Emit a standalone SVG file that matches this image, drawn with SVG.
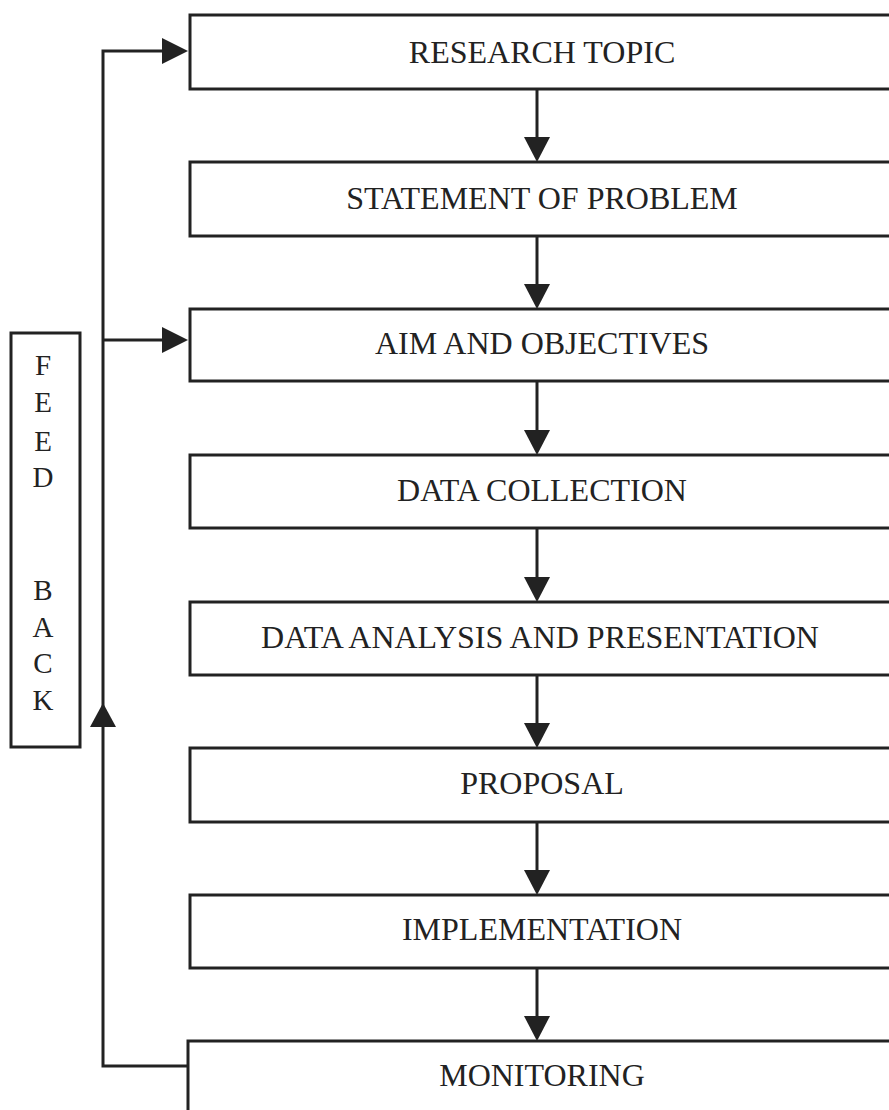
<svg xmlns="http://www.w3.org/2000/svg" width="889" height="1110" viewBox="0 0 889 1110">
  <style>
    .box { fill: #ffffff; stroke: #222222; stroke-width: 3; }
    .label { font-family: "Liberation Serif", "Times New Roman", serif; font-size: 32px; fill: #222222; text-anchor: middle; dominant-baseline: central; }
    .letter { font-family: "Liberation Serif", "Times New Roman", serif; font-size: 29px; fill: #222222; text-anchor: middle; }
    .line { fill: none; stroke: #222222; stroke-width: 3; }
    .head { fill: #222222; }
  </style>
  <rect width="889" height="1110" fill="#ffffff"/>

  <g id="connectors">
    <!-- downward flow between steps -->
    <line class="line" x1="537" y1="89" x2="537" y2="140"/>
    <polygon class="head" points="524,137 550,137 537,162"/>
    <line class="line" x1="537" y1="236" x2="537" y2="287"/>
    <polygon class="head" points="524,284 550,284 537,309"/>
    <line class="line" x1="537" y1="381" x2="537" y2="433"/>
    <polygon class="head" points="524,430 550,430 537,455"/>
    <line class="line" x1="537" y1="528" x2="537" y2="580"/>
    <polygon class="head" points="524,577 550,577 537,602"/>
    <line class="line" x1="537" y1="675" x2="537" y2="726"/>
    <polygon class="head" points="524,723 550,723 537,748"/>
    <line class="line" x1="537" y1="822" x2="537" y2="873"/>
    <polygon class="head" points="524,870 550,870 537,895"/>
    <line class="line" x1="537" y1="968" x2="537" y2="1019"/>
    <polygon class="head" points="524,1016 550,1016 537,1041"/>

    <!-- feedback loop -->
    <polyline class="line" points="190,1066 103,1066 103,51 165,51"/>
    <polygon class="head" points="162,38 162,64 188,51"/>
    <line class="line" x1="103" y1="340" x2="165" y2="340"/>
    <polygon class="head" points="162,327 162,353 188,340"/>
    <polygon class="head" points="90,727 116,727 103,703"/>
  </g>

  <g id="research-topic">
    <rect class="box" x="190" y="15" width="705" height="74"/>
    <text class="label" x="542" y="52">RESEARCH TOPIC</text>
  </g>
  <g id="statement-of-problem">
    <rect class="box" x="190" y="162" width="705" height="74"/>
    <text class="label" x="542" y="198">STATEMENT OF PROBLEM</text>
  </g>
  <g id="aim-and-objectives">
    <rect class="box" x="190" y="309" width="705" height="72"/>
    <text class="label" x="542" y="343">AIM AND OBJECTIVES</text>
  </g>
  <g id="data-collection">
    <rect class="box" x="190" y="455" width="705" height="73"/>
    <text class="label" x="542" y="490">DATA COLLECTION</text>
  </g>
  <g id="data-analysis">
    <rect class="box" x="190" y="602" width="705" height="73"/>
    <text class="label" x="540" y="637">DATA ANALYSIS AND PRESENTATION</text>
  </g>
  <g id="proposal">
    <rect class="box" x="190" y="748" width="705" height="74"/>
    <text class="label" x="542" y="783">PROPOSAL</text>
  </g>
  <g id="implementation">
    <rect class="box" x="190" y="895" width="705" height="73"/>
    <text class="label" x="542" y="929">IMPLEMENTATION</text>
  </g>
  <g id="monitoring">
    <rect class="box" x="188" y="1041" width="707" height="80"/>
    <text class="label" x="542" y="1075">MONITORING</text>
  </g>

  <g id="feedback">
    <rect class="box" x="11" y="333" width="69" height="414"/>
    <text class="letter" x="43" y="375">F</text>
    <text class="letter" x="43" y="412">E</text>
    <text class="letter" x="43" y="451">E</text>
    <text class="letter" x="43" y="487">D</text>
    <text class="letter" x="43" y="600">B</text>
    <text class="letter" x="43" y="637">A</text>
    <text class="letter" x="43" y="673">C</text>
    <text class="letter" x="43" y="710">K</text>
  </g>
</svg>
